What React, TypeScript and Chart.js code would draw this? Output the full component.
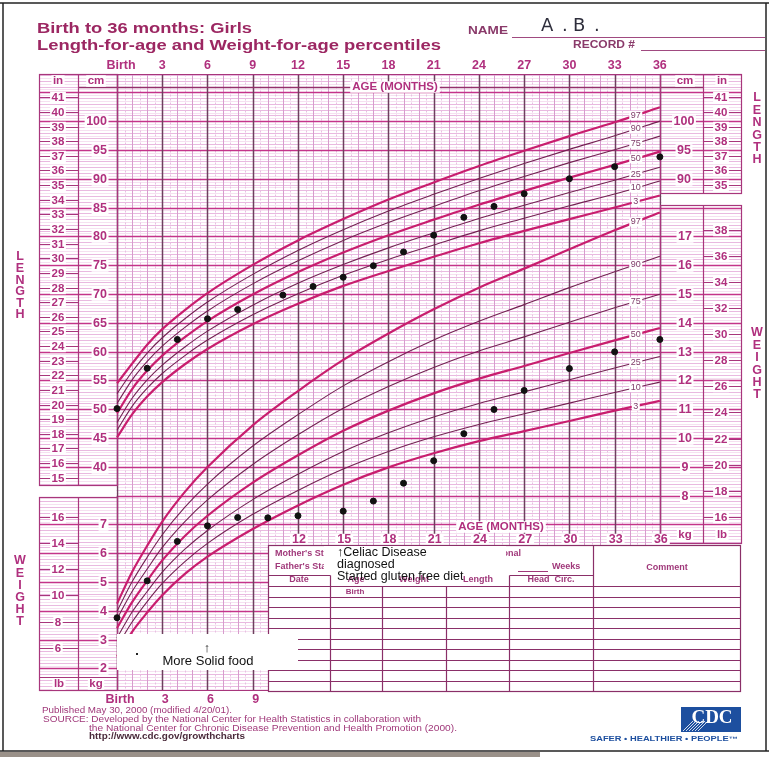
import React, { useEffect, useRef } from "react";
import { Chart, registerables } from "chart.js";

Chart.register(...registerables);

// ---------------- DATA ----------------
const curveAges = [0, 1, 2, 3, 4.5, 6, 9, 12, 15, 18, 21, 24, 27, 30, 33, 36];
const percentileNames = ["3", "10", "25", "50", "75", "90", "97"];

const lengthP3 = [45.1, 49.1, 52.2, 54.7, 57.8, 60.45, 64.75, 68.3, 71.4, 74.0, 76.45, 78.8, 80.95, 83.0, 85.0, 87.1];
const lengthP10 = [46.35, 50.5, 53.65, 56.2, 59.3, 62.0, 66.4, 70.05, 73.25, 76.0, 78.5, 80.95, 83.15, 85.3, 87.35, 89.6];
const lengthP25 = [47.7, 51.9, 55.1, 57.65, 60.8, 63.55, 68.05, 71.85, 75.1, 78.0, 80.6, 83.1, 85.4, 87.6, 89.75, 92.0];
const lengthP50 = [49.3, 53.5, 56.7, 59.3, 62.5, 65.3, 69.9, 73.8, 77.2, 80.2, 82.9, 85.5, 87.9, 90.2, 92.4, 94.7];
const lengthP75 = [51.0, 55.1, 58.3, 60.95, 64.2, 67.05, 71.75, 75.75, 79.3, 82.4, 85.2, 87.9, 90.4, 92.8, 95.05, 97.4];
const lengthP90 = [52.7, 56.5, 59.75, 62.4, 65.7, 68.6, 73.4, 77.55, 81.15, 84.4, 87.3, 90.05, 92.65, 95.1, 97.45, 100.0];
const lengthP97 = [54.5, 57.9, 61.2, 63.9, 67.2, 70.15, 75.05, 79.3, 83.0, 86.4, 89.35, 92.2, 94.85, 97.4, 99.8, 102.4];

const weightP3 = [2.41, 3.27, 3.94, 4.54, 5.28, 5.88, 6.84, 7.66, 8.38, 8.98, 9.47, 9.89, 10.24, 10.59, 10.95, 11.29];
const weightP10 = [2.75, 3.61, 4.32, 4.95, 5.71, 6.34, 7.35, 8.18, 8.92, 9.53, 10.04, 10.47, 10.84, 11.21, 11.58, 11.94];
const weightP25 = [3.06, 3.96, 4.67, 5.34, 6.14, 6.79, 7.86, 8.74, 9.53, 10.18, 10.73, 11.2, 11.6, 12.02, 12.43, 12.83];
const weightP50 = [3.4, 4.3, 5.05, 5.75, 6.6, 7.3, 8.45, 9.4, 10.25, 10.95, 11.55, 12.06, 12.5, 12.95, 13.39, 13.82];
const weightP75 = [3.72, 4.67, 5.45, 6.2, 7.1, 7.85, 9.08, 10.11, 11.03, 11.79, 12.45, 13.02, 13.51, 14.02, 14.52, 14.99];
const weightP90 = [3.99, 5.01, 5.86, 6.64, 7.6, 8.4, 9.72, 10.81, 11.81, 12.65, 13.4, 14.05, 14.63, 15.22, 15.77, 16.31];
const weightP97 = [4.25, 5.35, 6.26, 7.1, 8.13, 8.99, 10.44, 11.63, 12.71, 13.63, 14.47, 15.22, 15.88, 16.55, 17.21, 17.83];

const patientLengthAges = [0, 2, 4, 6, 8, 11, 13, 15, 17, 19, 21, 23, 25, 27, 30, 33, 36];
const patientLength = [50.1, 57.1, 62.1, 65.7, 67.3, 69.8, 71.3, 72.9, 74.9, 77.3, 80.2, 83.3, 85.2, 87.4, 90.0, 92.1, 93.8];
const patientWeightAges = [0, 2, 4, 6, 8, 10, 12, 15, 17, 19, 21, 23, 25, 27, 30, 33, 36];
const patientWeight = [3.76, 5.04, 6.41, 6.95, 7.24, 7.23, 7.3, 7.46, 7.81, 8.43, 9.21, 10.15, 10.99, 11.65, 12.41, 12.99, 13.42];

const ageTickMonths = [0, 3, 6, 9, 12, 15, 18, 21, 24, 27, 30, 33, 36];
const ageTickLabels = ["Birth", "3", "6", "9", "12", "15", "18", "21", "24", "27", "30", "33", "36"];
const lowerAgeTickMonths = [12, 15, 18, 21, 24, 27, 30, 33, 36];
const bottomAgeTickMonths = [0, 3, 6, 9];
const cmTicksLeft = [40, 45, 50, 55, 60, 65, 70, 75, 80, 85, 90, 95, 100];
const cmTicksRight = [90, 95, 100];
const inTicksLeft = [15, 16, 17, 18, 19, 20, 21, 22, 23, 24, 25, 26, 27, 28, 29, 30, 31, 32, 33, 34, 35, 36, 37, 38, 39, 40, 41];
const inTicksRight = [35, 36, 37, 38, 39, 40, 41];
const kgTicksLeft = [2, 3, 4, 5, 6, 7];
const kgTicksRight = [8, 9, 10, 11, 12, 13, 14, 15, 16, 17];
const lbTicksLeft = [6, 8, 10, 12, 14, 16];
const lbTicksRight = [16, 18, 20, 22, 24, 26, 28, 30, 32, 34, 36, 38];

const lengthCurves = [lengthP3, lengthP10, lengthP25, lengthP50, lengthP75, lengthP90, lengthP97];
const weightCurves = [weightP3, weightP10, weightP25, weightP50, weightP75, weightP90, weightP97];

// ---------------- LAYOUT / STYLE ----------------
const W = 769;
const H = 757;
const PX_PER_MONTH = 550 / 36;
const X_MIN = -113.5 / PX_PER_MONTH;
const X_MAX = X_MIN + W / PX_PER_MONTH;
const PX_PER_CM = 5.838;
const Y_MAX = 100 + 117.7 / PX_PER_CM;
const Y_MIN = Y_MAX - H / PX_PER_CM;
// weight (kg) axis aligned so that 1 kg = 5 cm, kg = (cm + 5) / 5
const YW_MIN = (Y_MIN + 5) / 5;
const YW_MAX = (Y_MAX + 5) / 5;

const TOP = 74.5;
const BOTTOM = 690.5;
const LEFT = 39.5;
const LSEP = 78.5;
const RSEP = 703.5;
const RIGHT = 741.5;

const MAG = "#b0307e";
const DARKMAG = "#9c2762";
const BORDER = "#a8367c";
const BOLD_CURVE = "#c81e6e";
const THIN_CURVE = "#732252";
const SANS = "'Liberation Sans', Arial, sans-serif";

function hline(ctx: CanvasRenderingContext2D, x1: number, x2: number, y: number, color: string, w = 1, dash: number[] = []) {
  ctx.beginPath();
  ctx.setLineDash(dash);
  ctx.strokeStyle = color;
  ctx.lineWidth = w;
  ctx.moveTo(x1, y);
  ctx.lineTo(x2, y);
  ctx.stroke();
  ctx.setLineDash([]);
}
function vline(ctx: CanvasRenderingContext2D, x: number, y1: number, y2: number, color: string, w = 1, dash: number[] = []) {
  ctx.beginPath();
  ctx.setLineDash(dash);
  ctx.strokeStyle = color;
  ctx.lineWidth = w;
  ctx.moveTo(x, y1);
  ctx.lineTo(x, y2);
  ctx.stroke();
  ctx.setLineDash([]);
}
function txt(
  ctx: CanvasRenderingContext2D,
  s: string,
  x: number,
  y: number,
  size: number,
  color: string,
  opts: { align?: CanvasTextAlign; bold?: boolean; bg?: boolean; pad?: number; family?: string } = {}
) {
  const align = opts.align || "center";
  ctx.font = `${opts.bold === false ? "" : "bold "}${size}px ${opts.family || SANS}`;
  ctx.textAlign = align;
  ctx.textBaseline = "middle";
  if (opts.bg) {
    const w = ctx.measureText(s).width;
    const pad = opts.pad ?? 1.5;
    const left = align === "center" ? x - w / 2 : align === "right" ? x - w : x;
    ctx.fillStyle = "#fff";
    ctx.fillRect(left - pad, y - size / 2, w + 2 * pad, size);
  }
  ctx.fillStyle = color;
  ctx.fillText(s, x, y);
}
function fitTxt(ctx: CanvasRenderingContext2D, s: string, x: number, y: number, width: number, size: number, color: string, bold = true) {
  ctx.font = `${bold ? "bold " : ""}${size}px ${SANS}`;
  ctx.textAlign = "left";
  ctx.textBaseline = "middle";
  const w = ctx.measureText(s).width;
  ctx.save();
  ctx.translate(x, y);
  ctx.scale(width / w, 1);
  ctx.fillStyle = color;
  ctx.fillText(s, 0, 0);
  ctx.restore();
}
function interp(ages: number[], vals: number[], a: number) {
  for (let i = 0; i < ages.length - 1; i++) {
    if (a >= ages[i] && a <= ages[i + 1]) {
      const t = (a - ages[i]) / (ages[i + 1] - ages[i]);
      return vals[i] + t * (vals[i + 1] - vals[i]);
    }
  }
  return vals[vals.length - 1];
}

function drawPaper(chart: any) {
  const ctx: CanvasRenderingContext2D = chart.ctx;
  const X = (m: number) => chart.scales.x.getPixelForValue(m);
  const YC = (v: number) => chart.scales.y.getPixelForValue(v);
  const YW = (v: number) => chart.scales.yw.getPixelForValue(v);
  const x0 = Math.round(X(0)) + 0.5;
  const x36 = Math.round(X(36)) + 0.5;
  ctx.save();
  ctx.fillStyle = "#fff";
  ctx.fillRect(0, 0, W, H);

  // fine horizontal lines (every 0.5 cm == 0.1 kg)
  for (let k = -20; k <= 220; k++) {
    const c = k / 2;
    if (k % 10 === 0) continue;
    const y = Math.round(YC(c)) + 0.5;
    if (y <= TOP || y >= BOTTOM) continue;
    hline(ctx, LEFT, RIGHT, y, k % 2 === 0 ? "#e9b9e0" : "#f6e0f1", 1);
  }
  // vertical month / half-month lines
  for (let h = 0; h <= 72; h++) {
    if (h % 6 === 0) continue;
    const x = Math.round(X(h / 2)) + 0.5;
    if (h % 2 === 0) vline(ctx, x, TOP, BOTTOM, "#d79ccd", 1);
    else vline(ctx, x, TOP, BOTTOM, "#e8bfe2", 1, [2, 2]);
  }
  // major horizontal lines (every 5 cm == 1 kg)
  for (let c = 0; c <= 110; c += 5) {
    const y = Math.round(YC(c)) + 0.5;
    if (y <= TOP || y >= BOTTOM) continue;
    hline(ctx, LEFT, RIGHT, y, "#c4348a", 1.3);
  }
  // major vertical lines every 3 months
  for (let m = 0; m <= 36; m += 3) {
    const x = Math.round(X(m)) + 0.5;
    vline(ctx, x, TOP, BOTTOM, "#6e3f5e", 1.5);
  }
  // gaps between panels
  ctx.fillStyle = "#fff";
  ctx.fillRect(LEFT - 1, 486, x0 - LEFT, 11);
  ctx.fillRect(x36 + 1, 194, RIGHT - x36 + 2, 11);
  ctx.fillRect(x36 + 1, 544, RIGHT - x36 + 2, 150);

  // header line
  hline(ctx, LSEP, RSEP, 87.5, "#94306c", 1.3);

  // panel borders
  ctx.strokeStyle = BORDER;
  ctx.lineWidth = 1.2;
  ctx.strokeRect(LEFT, TOP, x0 - LEFT, 485.5 - TOP);
  ctx.strokeRect(LEFT, 497.5, x0 - LEFT, BOTTOM - 497.5);
  vline(ctx, LSEP, TOP, 485.5, BORDER, 1.2);
  vline(ctx, LSEP, 497.5, BOTTOM, BORDER, 1.2);
  hline(ctx, LEFT, x0, 677.5, BORDER, 1.2);
  ctx.strokeRect(x36, TOP, RIGHT - x36, 193.5 - TOP);
  ctx.strokeRect(x36, 205.5, RIGHT - x36, 543.5 - 205.5);
  vline(ctx, RSEP, TOP, 193.5, BORDER, 1.2);
  vline(ctx, RSEP, 205.5, 543.5, BORDER, 1.2);
  hline(ctx, x0, x36, TOP, BORDER, 1.2);
  hline(ctx, x0, 268.5, BOTTOM, BORDER, 1.2);

  // left length: inches
  for (let i = 0; i < inTicksLeft.length; i++) {
    const y = Math.round(YC(inTicksLeft[i] * 2.54)) + 0.5;
    hline(ctx, LEFT, LSEP, y, BORDER, 1.2);
    txt(ctx, String(inTicksLeft[i]), 58, y, 11.5, MAG, { bg: true });
  }
  for (let i = 0; i < cmTicksLeft.length; i++) {
    const y = Math.round(YC(cmTicksLeft[i])) + 0.5;
    txt(ctx, String(cmTicksLeft[i]), 107, y, 12.5, MAG, { bg: true, align: "right" });
  }
  // right length
  for (let i = 0; i < inTicksRight.length; i++) {
    const y = Math.round(YC(inTicksRight[i] * 2.54)) + 0.5;
    hline(ctx, RSEP, RIGHT, y, BORDER, 1.2);
    txt(ctx, String(inTicksRight[i]), 721, y, 11.5, MAG, { bg: true });
  }
  for (let i = 0; i < cmTicksRight.length; i++) {
    const y = Math.round(YC(cmTicksRight[i])) + 0.5;
    txt(ctx, String(cmTicksRight[i]), 684, y, 12.5, MAG, { bg: true });
  }
  // left weight
  for (let i = 0; i < lbTicksLeft.length; i++) {
    const y = Math.round(YW(lbTicksLeft[i] * 0.45359)) + 0.5;
    hline(ctx, LEFT, LSEP, y, BORDER, 1.2);
    txt(ctx, String(lbTicksLeft[i]), 58, y, 11.5, MAG, { bg: true });
  }
  for (let i = 0; i < kgTicksLeft.length; i++) {
    const y = Math.round(YW(kgTicksLeft[i])) + 0.5;
    txt(ctx, String(kgTicksLeft[i]), 107, y, 12.5, MAG, { bg: true, align: "right" });
  }
  // right weight
  for (let i = 0; i < lbTicksRight.length; i++) {
    const y = Math.round(YW(lbTicksRight[i] * 0.45359)) + 0.5;
    hline(ctx, RSEP, RIGHT, y, BORDER, 1.2);
    txt(ctx, String(lbTicksRight[i]), 721, y, 11.5, MAG, { bg: true });
  }
  for (let i = 0; i < kgTicksRight.length; i++) {
    const y = Math.round(YW(kgTicksRight[i])) + 0.5;
    txt(ctx, String(kgTicksRight[i]), 685, y, 12.5, MAG, { bg: true });
  }

  // column headers
  txt(ctx, "in", 58, 81, 11.5, MAG, { bg: true });
  txt(ctx, "cm", 96, 81, 11.5, MAG, { bg: true });
  txt(ctx, "cm", 685, 81, 11.5, MAG, { bg: true });
  txt(ctx, "in", 722, 81, 11.5, MAG, { bg: true });
  txt(ctx, "lb", 59, 684, 11.5, MAG, { bg: true });
  txt(ctx, "kg", 96, 684, 11.5, MAG, { bg: true });
  txt(ctx, "kg", 685, 535, 11.5, MAG, { bg: true });
  txt(ctx, "lb", 722, 535, 11.5, MAG, { bg: true });

  // age axis texts
  for (let i = 0; i < ageTickMonths.length; i++) {
    txt(ctx, ageTickLabels[i], X(ageTickMonths[i]) + (i === 0 ? 4 : 0), 66, 12.5, MAG);
  }
  for (let i = 0; i < lowerAgeTickMonths.length; i++) {
    const m = lowerAgeTickMonths[i];
    txt(ctx, String(m), X(m) + 1, 540, 12.5, MAG, { bg: true, pad: 2 });
  }
  for (let i = 0; i < bottomAgeTickMonths.length; i++) {
    const m = bottomAgeTickMonths[i];
    txt(ctx, ageTickLabels[ageTickMonths.indexOf(m)], X(m) + 3, 700, 12.5, MAG);
  }
  txt(ctx, "AGE (MONTHS)", 395, 87, 11.5, MAG, { bg: true, pad: 2 });
  txt(ctx, "AGE (MONTHS)", 501, 527, 11.5, MAG, { bg: true, pad: 2 });

  // vertical words
  const vword = (w: string, x: number, y0: number, step: number) => {
    for (let i = 0; i < w.length; i++) txt(ctx, w[i], x, y0 + i * step, 12.5, MAG);
  };
  vword("LENGTH", 20, 257, 11.6);
  vword("WEIGHT", 20, 561, 12.2);
  vword("LENGTH", 757, 98, 12.4);
  vword("WEIGHT", 757, 333, 12.4);

  // title block
  fitTxt(ctx, "Birth to 36 months: Girls", 37, 29, 215, 15, DARKMAG);
  fitTxt(ctx, "Length-for-age and Weight-for-age percentiles", 37, 46, 404, 15, DARKMAG);
  fitTxt(ctx, "NAME", 468, 31, 40, 11, "#8a3a6a");
  hline(ctx, 512, 765, 37.5, "#a04a80", 1);
  fitTxt(ctx, "RECORD #", 573, 45, 62, 10, "#8a3a6a");
  hline(ctx, 641, 765, 50.5, "#a04a80", 1);
  ctx.font = `18px 'DejaVu Sans', sans-serif`;
  ctx.fillStyle = "#2e2e3c";
  ctx.textAlign = "left";
  ctx.textBaseline = "alphabetic";
  ctx.fillText("A", 541, 31);
  ctx.fillText(".", 562, 31);
  ctx.fillText("B", 573, 31);
  ctx.fillText(".", 594, 31);
  ctx.restore();
}

function drawOverlay(chart: any) {
  const ctx: CanvasRenderingContext2D = chart.ctx;
  const X = (m: number) => chart.scales.x.getPixelForValue(m);
  const YC = (v: number) => chart.scales.y.getPixelForValue(v);
  const YW = (v: number) => chart.scales.yw.getPixelForValue(v);
  ctx.save();

  // percentile labels
  const lx = X(34.4);
  for (let i = 0; i < percentileNames.length; i++) {
    const yl = YC(interp(curveAges, lengthCurves[i], 34.4));
    txt(ctx, percentileNames[i], lx, yl, 9, "#7e3a68", { bold: false, bg: true, pad: 1.5 });
    const yw = YW(interp(curveAges, weightCurves[i], 34.4));
    txt(ctx, percentileNames[i], lx, yw, 9, "#7e3a68", { bold: false, bg: true, pad: 1.5 });
  }

  // data table
  const TL = 268.5, TT = 545.5, TR = 740.5, TB = 691.5;
  ctx.fillStyle = "#fff";
  ctx.fillRect(TL, TT, TR - TL, TB - TT);
  ctx.strokeStyle = "#8a2f68";
  ctx.lineWidth = 1.2;
  ctx.strokeRect(TL, TT, TR - TL, TB - TT);
  const TC = "#8a2f68";
  vline(ctx, 330.5, 575.5, TB, TC, 1.2);
  vline(ctx, 382.5, 586.5, TB, TC, 1.2);
  vline(ctx, 446.5, 586.5, TB, TC, 1.2);
  vline(ctx, 509.5, 575.5, TB, TC, 1.2);
  vline(ctx, 593.5, TT, TB, TC, 1.2);
  hline(ctx, TL, 330.5, 575.5, TC, 1.2);
  hline(ctx, 509.5, 593.5, 575.5, TC, 1.2);
  for (let r = 0; r < 10; r++) {
    const y = Math.round(586 + r * 10.5) + 0.5;
    hline(ctx, TL, TR, y, TC, 1.2);
  }
  const TX = "#a0387a";
  txt(ctx, "Mother's Stature", 275, 554, 9, TX, { align: "left" });
  txt(ctx, "Father's Stature", 275, 567, 9, TX, { align: "left" });
  txt(ctx, "Gestational", 521, 554, 9, TX, { align: "right" });
  hline(ctx, 518, 548, 571.5, TX, 1);
  txt(ctx, "Weeks", 552, 567, 9, TX, { align: "left" });
  txt(ctx, "Date", 299, 580, 9, TX);
  txt(ctx, "Age", 356, 580, 9, TX);
  txt(ctx, "Weight", 414, 580, 9, TX);
  txt(ctx, "Length", 478, 580, 9, TX);
  txt(ctx, "Head  Circ.", 551, 580, 9, TX);
  txt(ctx, "Comment", 667, 568, 9, TX);
  txt(ctx, "Birth", 355, 592, 8, TX);

  // annotation box (celiac)
  ctx.fillStyle = "#fff";
  ctx.fillRect(324, 546, 182, 29);
  txt(ctx, "\u2191Celiac Disease", 337, 553, 12.5, "#111", { align: "left", bold: false });
  txt(ctx, "diagnosed", 337, 565, 12.5, "#111", { align: "left", bold: false });
  txt(ctx, "Started gluten free diet", 337, 577, 12.5, "#111", { align: "left", bold: false });

  // "More Solid food" note (drawn above the table edge)
  ctx.fillStyle = "#fff";
  ctx.fillRect(117, 634, 181, 36);
  txt(ctx, "\u2191", 207, 648, 13, "#111", { bold: false });
  txt(ctx, "More Solid food", 208, 661, 13, "#111", { bold: false });
  ctx.fillStyle = "#222";
  ctx.fillRect(136, 653, 2, 2);

  // footer
  fitTxt(ctx, "Published May 30, 2000 (modified 4/20/01).", 42, 711, 190, 8.5, TX, false);
  fitTxt(ctx, "SOURCE: Developed by the National Center for Health Statistics in collaboration with", 43, 720, 378, 8.5, TX, false);
  fitTxt(ctx, "the National Center for Chronic Disease Prevention and Health Promotion (2000).", 89, 728.5, 368, 8.5, TX, false);
  fitTxt(ctx, "http://www.cdc.gov/growthcharts", 89, 737, 156, 8.5, "#4a2a3a", true);

  // CDC logo
  ctx.fillStyle = "#1d4f9f";
  ctx.fillRect(681, 707, 60, 25);
  ctx.strokeStyle = "#ffffff";
  ctx.lineWidth = 0.8;
  for (let k = 0; k < 6; k++) {
    ctx.beginPath();
    ctx.moveTo(683 + k * 3, 731);
    ctx.lineTo(693 + k * 3, 721);
    ctx.stroke();
  }
  txt(ctx, "CDC", 712, 718, 19, "#ffffff", { family: "'Liberation Serif', serif" });
  fitTxt(ctx, "SAFER \u2022 HEALTHIER \u2022 PEOPLE\u2122", 590, 739, 148, 6.5, "#1d4f9f", true);

  // photo frame
  hline(ctx, 0, W, 3, "#222", 1.5);
  vline(ctx, 3, 3, 751, "#222", 1.5);
  vline(ctx, 766, 3, 751, "#222", 1.5);
  hline(ctx, 0, W, 751, "#222", 1.5);
  ctx.fillStyle = "#9a9189";
  ctx.fillRect(0, 752, 540, 5);
  ctx.restore();
}

const paperPlugin = {
  id: "growthPaper",
  beforeDatasetsDraw(chart: any) {
    drawPaper(chart);
  },
  afterDatasetsDraw(chart: any) {
    drawOverlay(chart);
  },
};

function curveDataset(vals: number[], axis: string, idx: number) {
  const bold = idx === 0 || idx === 3 || idx === 6;
  return {
    type: "line" as const,
    data: curveAges.map((a, i) => ({ x: a, y: vals[i] })),
    yAxisID: axis,
    borderColor: bold ? BOLD_CURVE : THIN_CURVE,
    borderWidth: bold ? 2.2 : 1.1,
    pointRadius: 0,
    fill: false,
    cubicInterpolationMode: "monotone" as const,
    order: 2,
  };
}

export default function App() {
  const ref = useRef<HTMLCanvasElement>(null);
  useEffect(() => {
    if (!ref.current) return;
    const datasets: any[] = [];
    lengthCurves.forEach((c, i) => datasets.push(curveDataset(c, "y", i)));
    weightCurves.forEach((c, i) => datasets.push(curveDataset(c, "yw", i)));
    datasets.push({
      type: "scatter",
      data: patientLengthAges.map((a, i) => ({ x: a, y: patientLength[i] })),
      yAxisID: "y",
      pointRadius: 3,
      pointBackgroundColor: "#111",
      pointBorderColor: "#111",
      showLine: false,
      order: 0,
    });
    datasets.push({
      type: "scatter",
      data: patientWeightAges.map((a, i) => ({ x: a, y: patientWeight[i] })),
      yAxisID: "yw",
      pointRadius: 3,
      pointBackgroundColor: "#111",
      pointBorderColor: "#111",
      showLine: false,
      order: 0,
    });
    const chart = new Chart(ref.current, {
      type: "line",
      data: { datasets },
      options: {
        animation: false,
        responsive: false,
        maintainAspectRatio: false,
        devicePixelRatio: 1,
        layout: { padding: 0 },
        events: [],
        plugins: { legend: { display: false }, tooltip: { enabled: false } },
        scales: {
          x: { type: "linear", min: X_MIN, max: X_MAX, display: false },
          y: { type: "linear", min: Y_MIN, max: Y_MAX, display: false },
          yw: { type: "linear", min: YW_MIN, max: YW_MAX, display: false },
        },
      },
      plugins: [paperPlugin],
    } as any);
    return () => chart.destroy();
  }, []);
  return (
    <div style={{ position: "fixed", left: 0, top: 0, width: W, height: H, background: "#fff" }}>
      <canvas ref={ref} width={W} height={H} style={{ width: W, height: H, display: "block" }} />
    </div>
  );
}
